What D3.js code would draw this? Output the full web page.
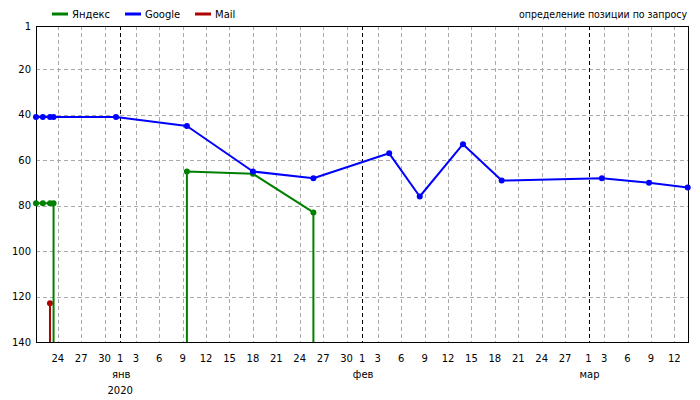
<!DOCTYPE html>
<html>
<head>
<meta charset="utf-8">
<script src="https://cdn.jsdelivr.net/npm/d3@7"></script>
<style>
  body { margin: 0; background: #fff; }
  svg { display: block; font-family: "DejaVu Sans", Verdana, sans-serif; font-size: 10px; }
</style>
</head>
<body>
<svg id="chart" width="700" height="400"></svg>
<script>
// ---- data ----
const dates = ["2019-12-21T05:00","2019-12-22T02:00","2019-12-23T00:00","2019-12-23T11:00",
  "2019-12-31T11:00","2020-01-09T13:00","2020-01-18T00:00","2020-01-25T18:00",
  "2020-02-04T11:00","2020-02-08T09:00","2020-02-13T22:00","2020-02-18T21:00",
  "2020-03-02T17:00","2020-03-08T18:00","2020-03-13T17:00"];
const yandex = [79,79,79,79,null,65,66,83,null,null,null,null,null,null,null];
const google = [41,41,41,41,41,45,65,68,57,76,53,69,68,70,72];
const mail   = [null,null,123,null,null,null,null,null,null,null,null,null,null,null,null];
const seriesNames = ["Яндекс","Google","Mail"];
const seriesColors = ["#008000","#0000ff","#b00000"];
const xDomain = ["2019-12-21T05:00","2020-03-13T21:00"];
const dayTicks = ["2019-12-24","2019-12-27","2019-12-30",
  "2020-01-01","2020-01-03","2020-01-06","2020-01-09","2020-01-12","2020-01-15","2020-01-18","2020-01-21","2020-01-24","2020-01-27","2020-01-30",
  "2020-02-01","2020-02-03","2020-02-06","2020-02-09","2020-02-12","2020-02-15","2020-02-18","2020-02-21","2020-02-24","2020-02-27",
  "2020-03-01","2020-03-03","2020-03-06","2020-03-09","2020-03-12"];
const monthTicks = ["2020-01-01","2020-02-01","2020-03-01"];
const monthLabels = ["янв","фев","мар"];
const yearTick = "2020-01-01";
const yearLabel = "2020";
const yTicks = [1,20,40,60,80,100,120,140];
const yDomain = [1,140];
const title = "определение позиции по запросу";

// ---- layout ----
const parse = s => new Date(s.length === 10 ? s + "T00:00" : s);
const L = 36, R = 689, T = 26, B = 342;
const svg = d3.select("#chart");
const x = d3.scaleTime().domain(xDomain.map(parse)).range([L, R]);
const y = d3.scaleLinear().domain(yDomain).range([T, B]);

// grid
const g = svg.append("g");
g.selectAll("line.hg").data(yTicks.filter(v => v !== yDomain[0] && v !== yDomain[1])).join("line")
  .attr("x1", L).attr("x2", R)
  .attr("y1", d => Math.round(y(d)) + 0.5).attr("y2", d => Math.round(y(d)) + 0.5)
  .attr("stroke", "#aaa").attr("stroke-dasharray", "4,3");
const monthSet = new Set(monthTicks);
g.selectAll("line.vg").data(dayTicks).join("line")
  .attr("x1", d => Math.round(x(parse(d))) + 0.5).attr("x2", d => Math.round(x(parse(d))) + 0.5)
  .attr("y1", T).attr("y2", B)
  .attr("stroke", d => monthSet.has(d) ? "#000" : "#aaa")
  .attr("stroke-dasharray", "4,3");

// frame
svg.append("rect").attr("x", L + 0.5).attr("y", T + 0.5).attr("width", R - L - 1).attr("height", B - T)
  .attr("fill", "none").attr("stroke", "#000");

// axes labels
svg.selectAll("text.yl").data(yTicks).join("text")
  .attr("x", 31).attr("y", d => y(d)).attr("dy", "0.35em")
  .attr("text-anchor", "end").attr("fill", "#000").text(d => d);
svg.selectAll("text.xl").data(dayTicks).join("text")
  .attr("x", d => x(parse(d))).attr("y", 362)
  .attr("text-anchor", "middle").attr("fill", "#000").text(d => +d.slice(8));
svg.selectAll("text.ml").data(monthTicks).join("text")
  .attr("x", d => x(parse(d)) + 1).attr("y", 378)
  .attr("text-anchor", "middle").attr("fill", "#000").text((d, i) => monthLabels[i]);
svg.append("text").attr("x", x(parse(yearTick))).attr("y", 394)
  .attr("text-anchor", "middle").attr("fill", "#000").text(yearLabel);

// series
const dts = dates.map(parse);
function runs(vals) {
  const out = []; let cur = null;
  vals.forEach((v, i) => {
    if (v === null) { if (cur) { cur.push([x(dts[i-1]), B]); out.push(cur); cur = null; } return; }
    if (!cur) { cur = []; if (i > 0 && vals[i-1] === null) cur.push([x(dts[i]), B]); }
    cur.push([x(dts[i]), y(v)]);
  });
  if (cur) out.push(cur);
  return out;
}
const line = d3.line();
const allSeries = [yandex, google, mail];
[2, 0, 1].forEach(si => {
  const vals = allSeries[si], col = seriesColors[si];
  const sg = svg.append("g");
  runs(vals).forEach(r => sg.append("path").attr("d", line(r)).attr("fill", "none")
    .attr("stroke", col).attr("stroke-width", 2).attr("stroke-linejoin", "round"));
  sg.selectAll("circle").data(vals.map((v, i) => [dts[i], v]).filter(d => d[1] !== null)).join("circle")
    .attr("cx", d => x(d[0])).attr("cy", d => y(d[1])).attr("r", 3).attr("fill", col);
});

// legend
const legX = [52, 125, 195];
seriesNames.forEach((n, i) => {
  svg.append("line").attr("x1", legX[i]).attr("x2", legX[i] + 16).attr("y1", 14).attr("y2", 14)
    .attr("stroke", seriesColors[i]).attr("stroke-width", 3);
  svg.append("text").attr("x", legX[i] + 20).attr("y", 18).attr("fill", "#000").text(n);
});
svg.append("text").attr("x", 687).attr("y", 18).attr("text-anchor", "end").attr("fill", "#000")
  .attr("textLength", 168).attr("lengthAdjust", "spacingAndGlyphs").text(title);
</script>
</body>
</html>
